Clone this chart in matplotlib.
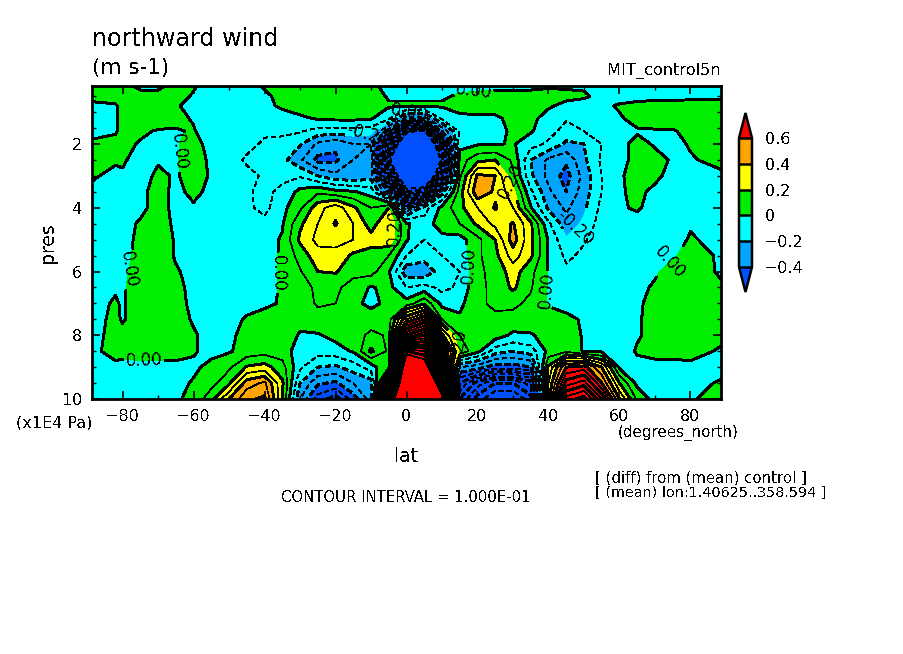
import numpy as np
import matplotlib
matplotlib.use("Agg")
import matplotlib.pyplot as plt

plt.rcParams['text.antialiased'] = False
plt.rcParams['font.family'] = 'DejaVu Sans'

# zonal mean northward wind (in 0.01 m/s)
lat = [-88.6, -82, -80, -75, -70, -65, -60, -55, -50, -45, -40, -35, -30, -25, -20, -15, -10, -5,
       0, 5, 10, 15, 20, 25, 30, 35, 40, 45, 50, 55, 60, 65, 70, 75, 80, 88.6]
pres = [0.18, 0.5, 0.8, 1.2, 1.6, 2, 2.5, 3, 3.5, 4, 4.5, 5, 5.5, 6, 6.5, 7, 7.5, 8, 8.5, 9, 9.5, 10]
wind = [
    [4, 4, 3, -2, -2, 3, 1, -4, -5, -3, 1, 4, 5, 5, 5, 4, 2, -3, -3, -3, -3, -2, -2, -2, -2, -2, -1, -1, -1, -2, -4, -5, -5, -5, -5, -5],
    [4, 4, 4, 3, 3, 4, -1, -5, -6, -5, -2, 3, 6, 7, 7, 6, 4, -1, -1, -1, -1, 1, 2, 3, 3, 3, 3, 2, 1, -2, -4, -5, -4, -4, -3, -3],
    [-3, -1, 3, 5, 5, 1, -3, -6, -7, -5, -3, 2, 5, 7, 8, 7, 5, 1, 1, 1, 1, 3, 5, 5, 5, 3, 1, -2, -3, -2, 1, 4, 5, 5, 5, 5],
    [-5, -1, 2, 5, 6, 3, -1, -6, -8, -8, -7, -5, -2, 1, 2, 2, 1, -8, -35, -35, -8, -2, -2, -2, 3, 2, -3, -9, -8, -5, -1, 3, 5, 5, 5, 5],
    [-5, -1, 3, 2, -1, -1, 1, -7, -9, -9, -9, -8, -9, -14, -15, -14, -16, -45, -125, -135, -40, -8, -3, -2, 1, 1, -6, -14, -10, -8, -4, -1, -1, -1, 3, 5],
    [3, 3, 3, -1, -4, -1, 4, -4, -9, -8, -11, -13, -19, -32, -38, -30, -30, -90, -170, -190, -90, -3, -1, -1, 1, -6, -12, -22, -20, -10, -3, 3, -1, -3, 1, 5],
    [2, 1, 1, -3, -1, -1, 5, -2, -7, -11, -13, -17, -28, -43, -42, -30, -25, -125, -190, -210, -125, 5, 17, 20, 8, -20, -32, -38, -22, -8, -3, 3, 3, -1, -1, 3],
    [1, -2, -1, -4, 2, -1, 4, -1, -5, -8, -11, -12, -11, -20, -27, -28, -25, -90, -170, -180, -95, 8, 42, 40, 12, -18, -33, -44, -26, -10, -1, 3, 2, -3, -2, -2],
    [-2, -3, -3, -2, 3, -2, 2, -2, -5, -9, -12, -8, 3, 8, 3, 1, -4, -40, -120, -110, -25, 15, 48, 38, 24, -8, -28, -40, -25, -10, -1, 2, -2, -4, -2, -2],
    [-2, -3, -3, -2, 3, -2, -1, -4, -6, -8, -13, -3, 8, 26, 36, 22, 10, 20, -40, -15, 3, 17, 30, 41, 30, 1, -22, -32, -22, -7, -1, 1, -3, -3, -2, -1],
    [-2, -3, -3, 1, 5, -2, -3, -5, -6, -7, -7, -1, 18, 30, 41, 30, 15, 30, 1, -5, 5, 10, 22, 33, 41, 22, -8, -26, -18, -5, -3, -3, -4, -4, -1, -2],
    [-3, -3, -3, 2, 6, -1, -3, -5, -6, -6, -4, 1, 22, 33, 33, 30, 24, 28, 1, -10, -3, -4, 7, 20, 45, 22, -1, -19, -11, -5, -4, -5, -5, -4, 1, -3],
    [-3, -3, -3, 3, 6, -1, -3, -5, -6, -5, -3, 1, 14, 26, 27, 18, 16, 10, -10, -15, -10, -7, 8, 17, 35, 22, -1, -12, -8, -5, -4, -5, -4, -1, 3, -1],
    [-2, -1, -2, 4, 6, 1, -3, -5, -6, -4, -3, 1, 9, 20, 21, 13, 14, 1, -27, -28, -14, -10, 8, 13, 25, 13, -1, -8, -6, -5, -4, -4, -1, 3, 4, -1],
    [-2, -1, -1, 4, 6, 2, -2, -4, -5, -4, -3, 1, 6, 12, 12, 6, -1, 3, -10, -6, -13, -8, 8, 12, 22, 11, -1, -6, -4, -4, -3, -2, 1, 3, 3, 1],
    [-3, 1, -1, 5, 6, 3, -2, -3, -3, -3, -2, 1, 6, 11, 10, 3, -3, 3, 4, 18, -3, -3, 9, 11, 12, 8, -1, -3, -1, -4, -3, -1, 2, 3, 3, 3],
    [-3, 2, -1, 5, 6, 4, -1, -3, -3, 1, 4, 7, 3, 7, 9, 8, 6, 5, 50, 70, 10, 2, 8, 9, 7, 6, 4, 2, -1, -5, -4, -1, 3, 4, 4, 4],
    [-3, 3, 3, 5, 6, 3, 1, -3, -2, 3, 5, 6, -1, -1, 3, 6, 12, 9, 100, 120, 42, 10, 10, 5, -2, -1, 4, 5, -1, -5, -4, -1, 3, 4, 4, 2],
    [-2, 3, 3, 4, 4, 3, 1, -3, -1, 4, 6, 5, -5, -6, -4, 1, 22, 8, 180, 170, 80, 17, 3, -15, -20, -15, 3, 8, -1, -2, -5, 1, 3, 3, 3, -1],
    [-3, -2, -3, -3, -3, -2, -2, 3, 8, 21, 24, 14, -8, -20, -22, -15, -5, 10, 230, 210, 120, -30, -35, -45, -45, -40, 22, 60, 65, 40, -2, -3, -3, -3, -2, -3],
    [-3, -3, -3, -4, -4, -3, 1, 6, 18, 45, 52, 22, -20, -38, -42, -30, -25, 60, 270, 250, 160, -60, -85, -100, -100, -85, 30, 85, 95, 60, 20, -3, -5, -5, -3, 1],
    [-3, -3, -3, -4, -4, -1, 2, 17, 40, 58, 62, 20, -30, -55, -65, -45, -25, 140, 300, 290, 200, -80, -105, -120, -120, -105, 35, 115, 125, 90, 40, 8, -4, -5, -1, 4],
]

fill_levels = [-0.4, -0.2, 0, 0.2, 0.4, 0.6]
fill_colors = ["#0050ff", "#00a5ff", "#00ffff", "#00ee00", "#ffff00", "#ffa500", "#ff0000"]
thin_levels = np.arange(-13, 20, 2) / 10
thick_levels = [l / 10 for l in range(-12, 20, 2) if l not in (-2, 0, 2)]
labelled_levels = [-0.2, 0, 0.2]

# where the contour labels sit: lat, pres
label_spots = [
    (-64.5, 2.25), (-77, 5.95), (-74, 8.85), (-35.5, 6.05), (-11, 1.6), (-3.5, 4.6),
    (19, 0.45), (30.5, 3.1), (17.5, 5.8), (39.4, 6.6), (47.5, 4.6), (73.5, 5.6), (13, 8.4),
]
colorbar_ticks = [-0.4, -0.2, 0, 0.2, 0.4, 0.6]
colorbar_labels = ["\u22120.4", "\u22120.2", "0", "0.2", "0.4", "0.6"]
x_ticks = [-80, -60, -40, -20, 0, 20, 40, 60, 80]
y_ticks = [2, 4, 6, 8, 10]

W, H = 904, 654
fig = plt.figure(figsize=(W / 100, H / 100), dpi=100)
ax = fig.add_axes([92 / W, 1 - 399 / H, (721 - 92) / W, (399 - 86) / H])

values = np.array(wind) / 100
cf = ax.contourf(lat, pres, values, levels=fill_levels, colors=fill_colors, extend='both', antialiased=False)
ax.contour(lat, pres, values, levels=thin_levels, colors='k', linewidths=0.5, antialiased=False,
           negative_linestyles=(0, (6, 5)))
ax.contour(lat, pres, values, levels=thick_levels, colors='k', linewidths=1.4, antialiased=False,
           negative_linestyles=(0, (3, 2)))
cs = ax.contour(lat, pres, values, levels=labelled_levels, colors='k', linewidths=1.4, antialiased=False,
                negative_linestyles=(0, (3, 2)))
ax.clabel(cs, manual=label_spots, fmt='%.2f', fontsize=12, inline=True, inline_spacing=2)
ax.text(0, 1.0, "-0.00", rotation=-10, ha='center', va='center', fontsize=12)

ax.set_xlim(-88.6, 88.6)
ax.set_ylim(10, 0.18)
ax.set_xticks(x_ticks)
ax.set_xticks(np.arange(-80, 81, 10), minor=True)
ax.set_yticks(y_ticks)
ax.set_yticks(np.arange(0.5, 10, 0.5), minor=True)
ax.tick_params(which='major', direction='in', length=6, width=1.2, top=True, right=True, labelsize=11.5, pad=7)
ax.tick_params(which='minor', direction='in', length=3, width=1.0, top=True, right=True)
for spine in ax.spines.values():
    spine.set_linewidth(2)

# colorbar with the triangles at both ends
cax = fig.add_axes([739 / W, 1 - 292 / H, 13 / W, (292 - 113) / H])
cb = fig.colorbar(cf, cax=cax, ticks=colorbar_ticks, extend='both', extendfrac=0.194, drawedges=True)
cb.ax.set_yticklabels(colorbar_labels)
cb.ax.tick_params(length=0, labelsize=11.5, pad=9)
cb.outline.set_linewidth(1.8)
cb.dividers.set_linewidth(1.8)


def put(px, py, s, **kw):
    fig.text(px / W, 1 - py / H, s, **kw)


put(92, 39, "northward wind", fontsize=17.2, va='center')
put(92, 68, "(m s-1)", fontsize=15.5, va='center')
put(721, 71, "MIT_control5n", fontsize=11.7, va='center', ha='right')
put(48, 243, "pres", fontsize=13.5, va='center', ha='center', rotation=90)
put(406, 457, "lat", fontsize=13.5, va='center', ha='center')
put(16, 423, "(x1E4 Pa)", fontsize=11.5, va='center')
put(618, 433, "(degrees_north)", fontsize=10.9, va='center')
put(281, 497, "CONTOUR INTERVAL = 1.000E-01", fontsize=10.7, va='center')
put(595, 478, "[ (diff) from (mean) control ]", fontsize=10.7, va='center')
put(595, 493, "[ (mean) lon:1.40625..358.594 ]", fontsize=10.4, va='center')

fig.savefig("out.png", dpi=100)
